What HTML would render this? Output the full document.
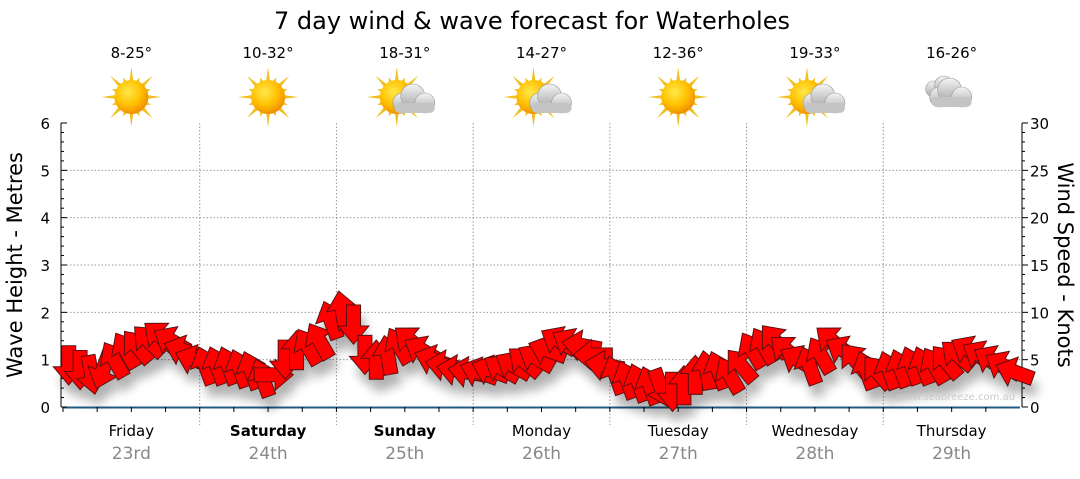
<!DOCTYPE html>
<html><head><meta charset="utf-8"><style>
body{margin:0;background:#fff;font-family:"DejaVu Sans","Liberation Sans",sans-serif;}
svg text{font-family:"DejaVu Sans","Liberation Sans",sans-serif;}
</style></head><body>
<svg id="c" width="1080" height="475" xmlns="http://www.w3.org/2000/svg">
<defs>
<radialGradient id="sunG" cx="40%" cy="35%" r="65%"><stop offset="0" stop-color="#ffe94a"/><stop offset="0.6" stop-color="#ffc000"/><stop offset="1" stop-color="#f09000"/></radialGradient>
<linearGradient id="cloudG" x1="0" y1="0" x2="0" y2="1"><stop offset="0" stop-color="#f4f4f4"/><stop offset="1" stop-color="#a8a8a8"/></linearGradient>
<filter id="sh" x="-20%" y="-20%" width="140%" height="160%"><feGaussianBlur stdDeviation="5"/></filter>
</defs>
<text x="532" y="29" font-size="24" text-anchor="middle">7 day wind &amp; wave forecast for Waterholes</text>
<g id="grid"></g>
<g id="axes"></g>
<g id="icons"></g>
<g id="shadow" filter="url(#sh)" opacity="0.3"></g>
<g id="arrows"></g>
<text x="1015" y="400" font-size="10" fill="#ccc" text-anchor="end">www.seabreeze.com.au</text>
<text transform="translate(22,265) rotate(-90)" font-size="21" text-anchor="middle">Wave Height - Metres</text>
<text transform="translate(1058,265) rotate(90)" font-size="21" text-anchor="middle">Wind Speed - Knots</text>
</svg>
<script>
const days=["Friday","Saturday","Sunday","Monday","Tuesday","Wednesday","Thursday"];
const dates=["23rd","24th","25th","26th","27th","28th","29th"];
const boldDays=[false,true,true,false,false,false,false];
const temps=["8-25°","10-32°","18-31°","14-27°","12-36°","19-33°","16-26°"];
const weather=["sun","sun","partly","partly","sun","partly","cloud"];
const waveTicks=[0,1,2,3,4,5,6];
const windTicks=[0,5,10,15,20,25,30];
const windSpeed=[4.4,3.9,3.4,3.9,5,6,6.4,7,7.5,7,6,5,
4.4,4.4,4.4,4.1,3.9,3.1,3.4,5,6,6.4,7,9.2,
10.2,8.7,5.5,5,5.5,6.5,7,6,5,4.4,3.9,3.7,
3.7,3.9,4.1,4.4,4.8,5.2,6,7,6.8,6.5,5.5,4.4,
3.4,2.9,2.6,2.3,2,1.6,2.3,3.4,3.9,3.9,3.4,4.4,
6,6.5,7,6,5,4.4,5.5,7,6,5,3.9,3.7,
3.9,4.1,4.4,4.4,4.4,4.8,5.5,6,5.5,5,4.4,3.7];
const windDir=[180,180,170,200,-30,-30,-40,-45,-50,-60,-70,-70,
-20,-20,-20,-20,-20,-20,90,180,0,-30,-30,-20,
-10,180,180,0,-10,-30,-50,-60,-70,-80,-80,-80,
-70,-70,-60,-60,-50,-60,-70,-60,-60,-80,-90,-80,
-20,-20,-20,-20,160,180,0,0,-10,-20,-30,-40,
-30,-30,-40,-50,-60,-20,-30,-50,-60,-40,-20,-40,
-20,-20,-20,-20,-30,-40,-50,-60,-60,-60,-60,-70];
const X0=63,X1=1020,Y0=407,Y1=123;
const xDay=i=>X0+(X1-X0)*i/7;
const xIdx=i=>X0+(X1-X0)*(i+0.5)/windSpeed.length;
const yWave=v=>Y0-(Y0-Y1)*v/6;
const yWind=v=>Y0-(Y0-Y1)*v/30;
const NS="http://www.w3.org/2000/svg";
function mk(tag,parent,attrs){const e=document.createElementNS(NS,tag);for(const k in attrs)e.setAttribute(k,attrs[k]);document.getElementById(parent).appendChild(e);return e;}
waveTicks.forEach(t=>{if(t>0&&t<6){const l=mk('line','grid',{x1:X0,x2:X1,y1:yWave(t),y2:yWave(t),stroke:'#999','stroke-dasharray':'1.5,2'});

}});
for(let i=1;i<7;i++){const l=mk('line','grid',{x1:xDay(i),x2:xDay(i),y1:Y1,y2:Y0+18,stroke:'#999','stroke-dasharray':'1.5,2'});

}
mk('line','axes',{x1:61,x2:61,y1:Y1,y2:Y0,stroke:'#000'});
mk('line','axes',{x1:1022,x2:1022,y1:Y1,y2:Y0,stroke:'#000'});
mk('line','axes',{x1:X0,x2:X1,y1:Y0+0.5,y2:Y0+0.5,stroke:'#1f5a85','stroke-width':2});
for(let i=0;i<=30;i++){const y=yWind(i);const L=i%5==0?6:3;
mk('line','axes',{x1:61,x2:61+L,y1:y,y2:y,stroke:'#000'});
mk('line','axes',{x1:1022,x2:1022+L,y1:y,y2:y,stroke:'#000'});}
for(let i=0;i<28;i++){const x=X0+(X1-X0)*i/28;mk('line','axes',{x1:x,x2:x,y1:Y0,y2:Y0+5,stroke:'#000'});}
waveTicks.forEach(t=>{const e=mk('text','axes',{x:50,y:yWave(t)+6,'font-size':15,'text-anchor':'end'});e.textContent=t;

});
windTicks.forEach(t=>{const e=mk('text','axes',{x:1030,y:yWind(t)+6,'font-size':15});e.textContent=t;

});
days.forEach((d,i)=>{const cx=(xDay(i)+xDay(i+1))/2;
const a=mk('text','axes',{x:cx,y:436,'font-size':15,'text-anchor':'middle','font-weight':boldDays[i]?'bold':'normal'});a.textContent=d;


const b=mk('text','axes',{x:cx,y:459,'font-size':17,'text-anchor':'middle',fill:'#888'});b.textContent=dates[i];


const t=mk('text','icons',{x:cx,y:58,'font-size':15,'text-anchor':'middle'});t.textContent=temps[i];


const g=mk('g','icons',{transform:`translate(${cx},97)`});


const w=weather[i];
if(w!=='cloud'){const sx=w==='partly'?-8:0;
for(let k=0;k<16;k++){const ang=k*Math.PI/8-Math.PI/2;const r=k%2?21:30;const p=document.createElementNS(NS,'polygon');
const a1=ang-0.12,a2=ang+0.12;
p.setAttribute('points',`${sx+16*Math.cos(a1)},${16*Math.sin(a1)} ${sx+r*Math.cos(ang)},${r*Math.sin(ang)} ${sx+16*Math.cos(a2)},${16*Math.sin(a2)}`);
p.setAttribute('fill','#f0c020');g.appendChild(p);}
const c=document.createElementNS(NS,'circle');c.setAttribute('cx',sx);c.setAttribute('cy',0);c.setAttribute('r',17);c.setAttribute('fill','url(#sunG)');g.appendChild(c);}
if(w!=='sun'){const ox=w==='partly'?10:0,oy=w==='partly'?4:-2;
const cl=[[ox-12,oy+2,10],[ox-2,oy-5,12],[ox+10,oy+2,10]];
if(w==='cloud')cl.unshift([ox-18,oy-6,8],[ox-8,oy-10,9]);
cl.forEach(q=>{const c=document.createElementNS(NS,'circle');c.setAttribute('cx',q[0]);c.setAttribute('cy',q[1]);c.setAttribute('r',q[2]);c.setAttribute('fill','url(#cloudG)');c.setAttribute('stroke','#999');c.setAttribute('stroke-width','0.6');g.appendChild(c);});
const r=document.createElementNS(NS,'rect');r.setAttribute('x',ox-20);r.setAttribute('y',oy+2);r.setAttribute('width',40);r.setAttribute('height',10);r.setAttribute('rx',5);r.setAttribute('fill','#c4c4c4');g.appendChild(r);}
});
const arrowPts="0,-14 11,-1 5,-1 5,14 -5,14 -5,-1 -11,-1";
windSpeed.forEach((v,i)=>{const x=xIdx(i),y=yWind(v);
const s=mk('polygon','shadow',{points:arrowPts,transform:`translate(${x+4},${y+12}) rotate(${windDir[i]}) scale(1.4)`,fill:'#000'});


const a=mk('polygon','arrows',{points:arrowPts,transform:`translate(${x},${y}) rotate(${windDir[i]}) scale(1.4)`,fill:'#ff0000',stroke:'#5a1010','stroke-width':0.7});

});
</script>
</body></html>
